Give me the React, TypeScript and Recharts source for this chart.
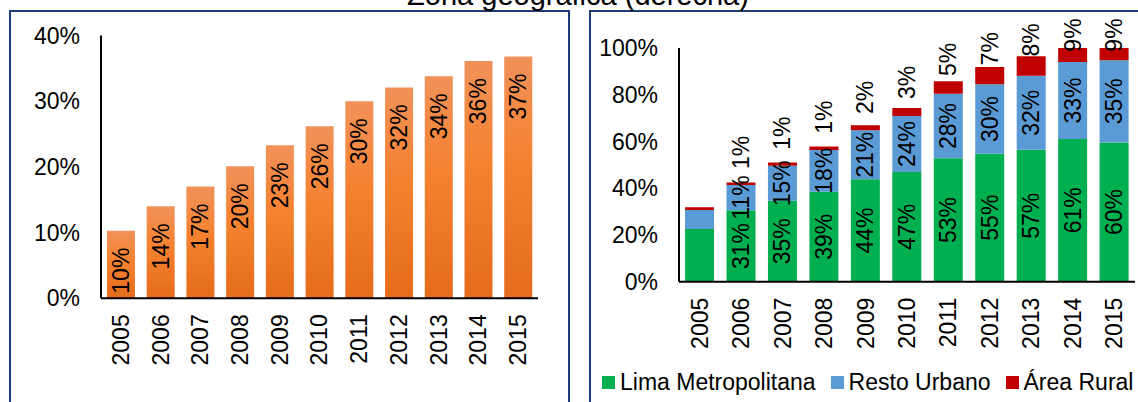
import React from 'react';
import { BarChart, Bar, XAxis, YAxis, LabelList } from 'recharts';

// ---------- data ----------
const years = ['2005', '2006', '2007', '2008', '2009', '2010', '2011', '2012', '2013', '2014', '2015'];
const totalShare = [10.3, 14.0, 17.0, 20.1, 23.3, 26.2, 30.0, 32.1, 33.8, 36.1, 36.8];
const limaMetropolitana = [22.6, 30.6, 34.6, 38.5, 43.8, 46.9, 52.8, 54.8, 56.5, 61.1, 59.6];
const restoUrbano = [8.1, 10.8, 15.0, 17.9, 21.0, 24.0, 27.6, 29.7, 31.6, 32.9, 35.2];
const areaRural = [1.2, 1.0, 1.4, 1.4, 2.1, 3.4, 5.4, 7.4, 8.4, 9.0, 9.0];
const unlabeledYears = ['2005'];
const leftTicks = [0, 10, 20, 30, 40];
const rightTicks = [0, 20, 40, 60, 80, 100];
const title = 'Zona geográfica (derecha)';
const seriesNames = ['Lima Metropolitana', 'Resto Urbano', 'Área Rural'];
const seriesColors = ['#00B050', '#5B9BD5', '#C00000'];

const leftData = years.map((year, i) => ({ year, value: totalShare[i] }));
const rightData = years.map((year, i) => {
  const show = !unlabeledYears.includes(year);
  return {
    year,
    lima: limaMetropolitana[i],
    resto: restoUrbano[i],
    rural: areaRural[i],
    limaLabel: show ? limaMetropolitana[i] : null,
    restoLabel: show ? restoUrbano[i] : null,
    ruralLabel: show ? areaRural[i] : null,
  };
});

// ---------- style ----------
const FONT = "'Liberation Sans', Arial, sans-serif";
const FS = 23;
const BORDER = '#1F3A78';
const pct = (v: number) => `${v}%`;

function box(props: any) {
  const vb = props.viewBox || {};
  const x = vb.x ?? props.x;
  const y = vb.y ?? props.y;
  const width = vb.width ?? props.width;
  const height = vb.height ?? props.height;
  const top = Math.min(y, y + height);
  return { x, top, width, h: Math.abs(height) };
}

const rotText = (cx: number, cy: number, anchor: string, text: string) => (
  <text
    x={cx}
    y={cy}
    transform={`rotate(-90 ${cx} ${cy})`}
    textAnchor={anchor}
    dominantBaseline="central"
    fontSize={FS}
    fontFamily={FONT}
    fill="#000"
  >
    {text}
  </text>
);

const LeftBarLabel = (props: any) => {
  if (props.value == null) return null;
  const { x, top, width } = box(props);
  return rotText(x + width / 2, top + 17, 'end', `${Math.round(props.value)}%`);
};

const CenterLabel = (props: any) => {
  if (props.value == null) return null;
  const { x, top, width, h } = box(props);
  return rotText(x + width / 2, top + h / 2, 'middle', `${Math.round(props.value)}%`);
};

const RuralLabel = (props: any) => {
  if (props.value == null) return null;
  const { x, top, width, h } = box(props);
  let cy = top + h / 2 - 32 + 0.3 * h;
  cy = Math.max(cy, 35);
  return rotText(x + width / 2, cy, 'middle', `${Math.round(props.value)}%`);
};

const YearTick = (props: any) => {
  const { x, y, payload } = props;
  return rotText(x, y, 'end', String(payload.value));
};

const axisLine = { stroke: '#000', strokeWidth: 2 };
const tickStyle = { fill: '#000', fontSize: FS, fontFamily: FONT };

export default function App() {
  return (
    <div
      style={{
        position: 'absolute',
        left: 0,
        top: 0,
        width: 1138,
        height: 402,
        overflow: 'hidden',
        background: '#fff',
        fontFamily: FONT,
      }}
    >
      {/* panel frames */}
      <div
        style={{
          position: 'absolute',
          left: 9,
          top: 10,
          width: 561,
          height: 440,
          border: `2px solid ${BORDER}`,
          boxSizing: 'border-box',
        }}
      />
      <div
        style={{
          position: 'absolute',
          left: 589,
          top: 10,
          width: 600,
          height: 440,
          border: `2px solid ${BORDER}`,
          boxSizing: 'border-box',
        }}
      />

      {/* left chart */}
      <div style={{ position: 'absolute', left: 0, top: 0 }}>
        <BarChart
          width={570}
          height={402}
          data={leftData}
          margin={{ top: 35.5, right: 32, bottom: 33.7, left: 0 }}
          barCategoryGap="15%"
        >
          <defs>
            <linearGradient id="orangeGrad" x1="0" y1="0" x2="0" y2="1">
              <stop offset="0%" stopColor="#F1925A" />
              <stop offset="45%" stopColor="#F5812F" />
              <stop offset="100%" stopColor="#E46C1B" />
            </linearGradient>
          </defs>
          <XAxis
            dataKey="year"
            axisLine={axisLine}
            tickLine={false}
            tickSize={0}
            tickMargin={16}
            height={70}
            interval={0}
            tick={<YearTick />}
          />
          <YAxis
            domain={[0, 40]}
            ticks={leftTicks}
            width={101}
            tickFormatter={pct}
            axisLine={axisLine}
            tickLine={false}
            tickSize={0}
            tickMargin={21}
            tick={tickStyle}
          />
          <Bar dataKey="value" fill="url(#orangeGrad)" isAnimationActive={false}>
            <LabelList dataKey="value" content={<LeftBarLabel />} />
          </Bar>
        </BarChart>
      </div>

      {/* right chart */}
      <div style={{ position: 'absolute', left: 589, top: 0 }}>
        <BarChart
          width={549}
          height={402}
          data={rightData}
          margin={{ top: 48, right: 3, bottom: 50.3, left: 0 }}
          barCategoryGap="14.6%"
        >
          <XAxis
            dataKey="year"
            axisLine={axisLine}
            tickLine={false}
            tickSize={0}
            tickMargin={16}
            height={70}
            interval={0}
            tick={<YearTick />}
          />
          <YAxis
            domain={[0, 100]}
            allowDataOverflow
            ticks={rightTicks}
            width={90}
            tickFormatter={pct}
            axisLine={axisLine}
            tickLine={false}
            tickSize={0}
            tickMargin={21}
            tick={tickStyle}
          />
          <Bar dataKey="lima" stackId="a" fill={seriesColors[0]} isAnimationActive={false}>
            <LabelList dataKey="limaLabel" content={<CenterLabel />} />
          </Bar>
          <Bar dataKey="resto" stackId="a" fill={seriesColors[1]} isAnimationActive={false}>
            <LabelList dataKey="restoLabel" content={<CenterLabel />} />
          </Bar>
          <Bar dataKey="rural" stackId="a" fill={seriesColors[2]} isAnimationActive={false}>
            <LabelList dataKey="ruralLabel" content={<RuralLabel />} />
          </Bar>
        </BarChart>
      </div>

      {/* legend */}
      <div
        style={{
          position: 'absolute',
          left: 602,
          top: 370.5,
          display: 'flex',
          alignItems: 'center',
          fontSize: FS,
          lineHeight: '23px',
          color: '#000',
          whiteSpace: 'nowrap',
        }}
      >
        {seriesNames.map((name, i) => (
          <div key={name} style={{ display: 'flex', alignItems: 'center', marginRight: 15 }}>
            <span
              style={{ display: 'inline-block', width: 13, height: 13, background: seriesColors[i], marginRight: 5 }}
            />
            <span>{name}</span>
          </div>
        ))}
      </div>

      {/* title (partially cut at top, as in the reference) */}
      <svg
        width={1138}
        height={402}
        style={{ position: 'absolute', left: 0, top: 0, pointerEvents: 'none' }}
      >
        <text x={578} y={5} textAnchor="middle" fontSize={29} fontFamily={FONT} fill="#000">
          {title}
        </text>
      </svg>
    </div>
  );
}
